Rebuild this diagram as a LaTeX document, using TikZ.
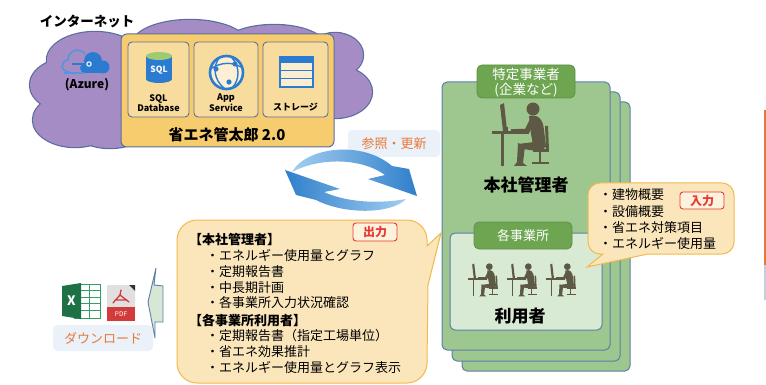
\documentclass[tikz,border=0pt]{standalone}
\usepackage{fontspec}
\setmainfont{Noto Sans CJK JP}
\newcommand\jpsize[1]{\fontsize{#1}{#1}\selectfont}
\definecolor{edgeblue}{HTML}{5A6E9E}
\definecolor{cloudfill}{HTML}{A68CC5}
\definecolor{appfill}{HTML}{F6CC6E}
\definecolor{tilefill}{HTML}{F8DC9E}
\definecolor{iconblue}{HTML}{2B7CD0}
\definecolor{sqltop}{HTML}{9CCB74}
\definecolor{cardfill}{HTML}{9DC78E}
\definecolor{cardedge}{HTML}{5D7EA9}
\definecolor{tabfill}{HTML}{6DA551}
\definecolor{tabedge}{HTML}{5F9146}
\definecolor{officefill}{HTML}{D9EAD4}
\definecolor{notefill}{HTML}{FBE6BB}
\definecolor{noteedge}{HTML}{F2B94C}
\definecolor{tagred}{HTML}{E53B35}
\definecolor{accent}{HTML}{E8793A}
\definecolor{paleblue}{HTML}{EAF1F8}
\definecolor{silh}{HTML}{5E5944}
\definecolor{arrowlight}{HTML}{A3CEF0}
\definecolor{arrowdark}{HTML}{2F7FCC}
\definecolor{xlgreen}{HTML}{1E7145}
\definecolor{xlgrid}{HTML}{33A062}
\definecolor{pdfred}{HTML}{D23B3B}
\definecolor{downfill}{HTML}{D6E8D4}
\begin{document}
\begin{tikzpicture}[x=1pt,y=-1pt,
  lbl/.style={inner sep=0pt, outer sep=0pt},
  tile/.style={draw=edgeblue, line width=0.9pt, fill=tilefill, rounded corners=4pt},
  cardbox/.style={draw=cardedge, line width=1pt, fill=cardfill, rounded corners=5pt},
  tabbox/.style={draw=tabedge, line width=0.8pt, fill=tabfill, rounded corners=5pt},
  note/.style={draw=noteedge, line width=1pt, fill=notefill},
  tagbox/.style={draw=tagred, line width=0.9pt, fill=notefill!50!white, rounded corners=3pt},
  tagtext/.style={lbl, text=tagred, font=\bfseries\jpsize{12}},
  item/.style={lbl, anchor=west, font=\jpsize{13}},
  head/.style={lbl, anchor=west, font=\bfseries\jpsize{13}},
  pics/worker/.style={code={
    \fill[silh] (8,5) -- (12,3) -- (15,30) -- (11,31) -- cycle;
    \fill[silh] (12,27) rectangle (16,31);
    \fill[silh] (0,31) rectangle (37,34);
    \fill[silh] (9,34) rectangle (12,66);
    \fill[silh] (19,29) rectangle (29,31);
    \fill[silh] (41,9) circle (6.5);
    \fill[silh] (37,16) .. controls (46,14) and (51,19) .. (52,30) -- (54,47) -- (42,50) -- (39,34) -- cycle;
    \fill[silh] (38,19) -- (43,21) -- (37,33) -- (25,32) -- (25,29) -- (33,29) -- cycle;
    \fill[silh] (42,42) -- (53,46) -- (51,52) -- (31,49) -- (26,44) -- cycle;
    \fill[silh] (26,43) -- (33,46) -- (31,63) -- (35,66) -- (22,66) -- (25,62) -- cycle;
    \fill[silh] (53,26) -- (56,26) -- (57,50) -- (54,50) -- cycle;
    \fill[silh] (41,49) rectangle (57,52);
    \fill[silh] (47,52) rectangle (49,62);
    \fill[silh] (40,62) rectangle (57,64);
  }}
]
\useasboundingbox (0,0) rectangle (766,385);

% ---------- cloud (union of ellipses) ----------
\foreach \cx/\cy/\rx/\ry in {95/60/48/28, 190/45/58/25, 274/47/52/22, 335/55/28/22, 335/92/37/26, 70/85/40/27, 75/120/42/27, 110/130/35/18, 200/85/150/45}
  {\draw[edgeblue, line width=2.4pt] (\cx,\cy) ellipse [x radius=\rx, y radius=\ry];}
\foreach \cx/\cy/\rx/\ry in {95/60/48/28, 190/45/58/25, 274/47/52/22, 335/55/28/22, 335/92/37/26, 70/85/40/27, 75/120/42/27, 110/130/35/18, 200/85/150/45}
  {\fill[cloudfill] (\cx,\cy) ellipse [x radius=\rx, y radius=\ry];}

\node[lbl, font=\bfseries\jpsize{13.5}] (net) at (87,21) {インターネット};

% Azure mark
\draw[iconblue!80!white, line width=1.6pt, line cap=round]
  (70,72) .. controls (60,72) and (60,61) .. (68,60) .. controls (68,50) and (80,47) .. (85,54);
\fill[iconblue] (93,61) circle (9);
\fill[iconblue] (103,67) circle (6.5);
\fill[iconblue] (85,68) circle (5);
\fill[iconblue] (85,67) rectangle (103,73.5);
\draw[iconblue, line width=1.4pt] (72,64) -- (88,64);
\draw[white, line width=1pt, fill=iconblue] (89,64) circle (2.2);
\draw[iconblue!80!white, line width=1.4pt] (64,73) -- (84,73);
\node[lbl, font=\bfseries\jpsize{12}] (azure) at (87,85) {(Azure)};

% ---------- application box ----------
\draw[edgeblue, line width=1pt, fill=appfill, rounded corners=6pt] (121,34) rectangle (334,147);
\draw[tile] (128,42) rectangle (189,117);
\draw[tile] (194,42) rectangle (258,117);
\draw[tile] (263,42) rectangle (328,117);

% SQL database icon
\fill[iconblue] (146,56) rectangle (172,79);
\fill[iconblue] (159,79) ellipse [x radius=13, y radius=4];
\fill[sqltop] (159,56) ellipse [x radius=13, y radius=4];
\node[lbl, text=white, font=\bfseries\jpsize{8.5}] at (159,70) {SQL};
\node[lbl, align=center, font=\bfseries\fontsize{9}{10.5}\selectfont] (sql) at (158.5,103) {SQL\\Database};

% App Service icon
\draw[iconblue, line width=2.6pt, fill=white!55!tilefill] (226.5,72.5) circle (16.5);
\draw[iconblue, line width=1.4pt] (220,57) .. controls (212,66) and (214,80) .. (224,88);
\draw[iconblue, line width=1.4pt] (232,58) .. controls (240,66) and (240,80) .. (232,88);
\draw[iconblue, line width=1.4pt] (212,68) .. controls (222,62) and (232,62) .. (241,67);
\fill[iconblue] (216,69) circle (2.6);
\fill[iconblue] (235,64) circle (2.6);
\fill[iconblue] (229,82) circle (2.6);
\node[lbl, align=center, font=\bfseries\fontsize{9}{10.5}\selectfont] (app) at (226,102.5) {App\\Service};

% storage icon
\fill[white!50!tilefill] (280,62) rectangle (313,87);
\fill[iconblue] (279,56.5) rectangle (314,62.5);
\draw[iconblue, line width=1.6pt] (280,62) rectangle (313,87);
\draw[iconblue, line width=1.6pt] (280,70.5) -- (313,70.5) (280,78.5) -- (313,78.5);
\node[lbl, font=\bfseries\jpsize{9}] (store) at (295.5,107) {ストレージ};

\node[lbl, font=\bfseries\jpsize{15}] (product) at (227,135) {省エネ管太郎 2.0};

% ---------- sync arrows ----------
\fill[paleblue, rounded corners=4pt] (348,130) rectangle (440,157);
\node[lbl, text=accent, font=\jpsize{13}] (sync) at (394,144) {参照・更新};
\shade[left color=arrowlight, right color=arrowdark]
  (292,172) .. controls (306,147) and (362,140) .. (392,166) -- (409,169) -- (417,196) -- (368,179) -- (385,175)
  .. controls (360,157) and (318,158) .. (292,172) -- cycle;
\shade[left color=arrowdark, right color=arrowlight]
  (406,199) .. controls (392,214) and (345,215) .. (316,200) -- (296,195) -- (285,170) -- (340,189) -- (324,192)
  .. controls (350,204) and (385,203) .. (406,199) -- cycle;

% ---------- company cards ----------
\draw[cardbox] (462,102) rectangle (630,371);
\draw[cardbox] (452,92) rectangle (620,361);
\draw[cardbox] (442,82) rectangle (610,350);
\draw[tabbox] (477,65) rectangle (575,98);
\node[lbl, text=white, font=\jpsize{13.5}] (corp) at (526,74) {特定事業者};
\node[lbl, text=white, font=\jpsize{13.5}] (corp2) at (526,90) {(企業など)};
\pic[transform shape] at (492,100) {worker};
\node[lbl, font=\bfseries\jpsize{17}] (hqadmin) at (526,185) {本社管理者};

\draw[draw=cardedge, line width=1pt, fill=officefill, rounded corners=5pt] (450,233) rectangle (602,330);
\draw[tabbox] (474,222) rectangle (572,249);
\node[lbl, text=white, font=\jpsize{13}] (site) at (523,236) {各事業所};
\foreach \wx in {468,507,546}{
  \begin{scope}[shift={(\wx,262)}, scale=0.52]
    \pic[transform shape] {worker};
  \end{scope}
}
\node[lbl, font=\bfseries\jpsize{17}] (users) at (520,316) {利用者};

% ---------- output callout ----------
\draw[note] (197,220) -- (407,220) .. controls (418,220) and (427,229) .. (427,240) -- (427,246) -- (441,233)
  -- (428,285) -- (427,363) .. controls (427,374) and (418,383) .. (407,383) -- (197,383)
  .. controls (186,383) and (177,374) .. (177,363) -- (177,240) .. controls (177,229) and (186,220) .. (197,220) -- cycle;
\draw[tagbox] (353,223) rectangle (397,241);
\node[tagtext] (outtag) at (375,232) {出力};
\node[head] (o0) at (189,240) {【本社管理者】};
\node[item] (o1) at (206,255.5) {・エネルギー使用量とグラフ};
\node[item] (o2) at (206,271.5) {・定期報告書};
\node[item] (o3) at (206,287.5) {・中長期計画};
\node[item] (o4) at (206,303) {・各事業所入力状況確認};
\node[head] (o5) at (189,321) {【各事業所利用者】};
\node[item] (o6) at (206,336) {・定期報告書（指定工場単位）};
\node[item] (o7) at (206,352) {・省エネ効果推計};
\node[item] (o8) at (206,368) {・エネルギー使用量とグラフ表示};

% ---------- input callout ----------
\draw[note] (600,183) -- (722,183) .. controls (728.6,183) and (734,188.4) .. (734,195) -- (734,242)
  .. controls (734,248.6) and (728.6,254) .. (722,254) -- (648,254) -- (587,267) -- (603,254) -- (600,254)
  .. controls (593.4,254) and (588,248.6) .. (588,242) -- (588,195) .. controls (588,188.4) and (593.4,183) .. (600,183) -- cycle;
\draw[tagbox] (680,192) rectangle (724,209);
\node[tagtext] (intag) at (702,200.5) {入力};
\node[item] (i1) at (599,195) {・建物概要};
\node[item] (i2) at (599,211.5) {・設備概要};
\node[item] (i3) at (599,227.5) {・省エネ対策項目};
\node[item] (i4) at (599,243.5) {・エネルギー使用量};

% ---------- download ----------
\draw[draw=cardedge, line width=0.9pt, fill=downfill]
  (156,268) -- (154,285) -- (163,286) -- (163,322) -- (155,322) -- (155,338) -- (148,302) -- cycle;
% spreadsheet icon
\fill[white] (74,284) rectangle (100,318);
\draw[xlgrid, line width=0.8pt] (74,284) rectangle (100,318);
\foreach \gy in {290.5,297,303.5,310}
  {\draw[xlgrid, line width=1pt] (80,\gy) -- (100,\gy);}
\draw[xlgrid, line width=1pt] (89,284) -- (89,318);
\fill[xlgreen] (62,286) -- (81,283) -- (81,319) -- (62,316) -- cycle;
\node[lbl, text=white, font=\bfseries\jpsize{13}] at (71.5,301) {X};
% pdf icon
\fill[black!12] (107,285) -- (129,285) -- (135,291) -- (135,321) -- (107,321) -- cycle;
\fill[black!80] (129,285) -- (135,285) -- (135,291) -- cycle;
\fill[pdfred] (107,307) rectangle (135,321);
\node[lbl, text=white, font=\jpsize{6.5}] at (121,314) {PDF};
\draw[pdfred, line width=1.3pt, line cap=round] (121,290) -- (120,295) -- (113,303) (120,295) -- (129,302) (115,300) -- (127,300);
\fill[paleblue, rounded corners=5pt] (53,325) rectangle (153,351);
\node[lbl, text=accent, font=\jpsize{13}] (dl) at (103,338) {ダウンロード};

% ---------- right margin rule ----------
\draw[accent, line width=1.6pt] (765,110) -- (765,265);
\draw[edgeblue!35, line width=1.6pt] (765,265) -- (765,300);
\end{tikzpicture}
\end{document}
